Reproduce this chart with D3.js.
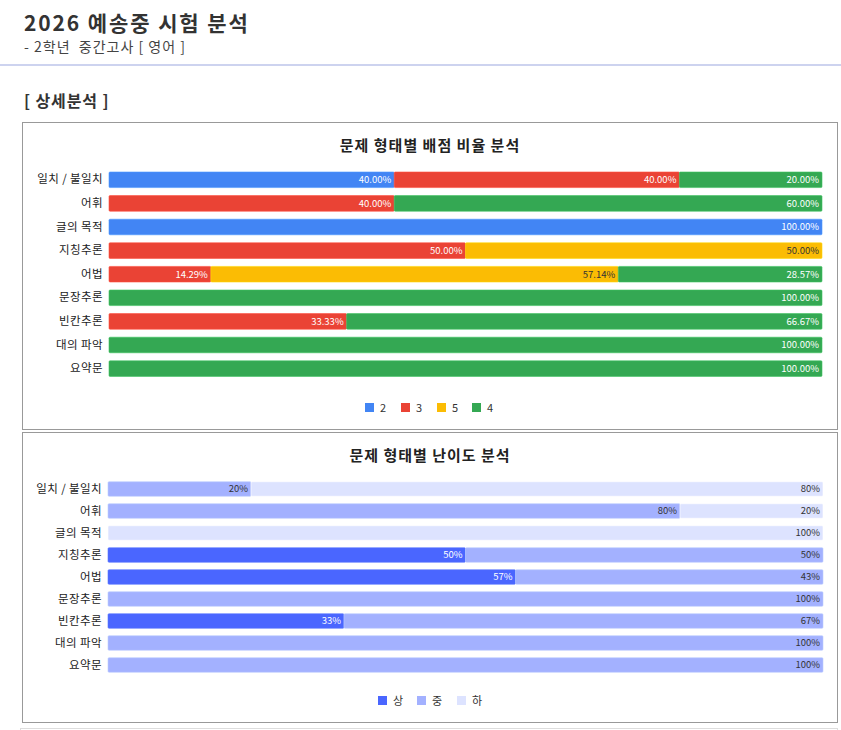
<!DOCTYPE html>
<html>
<head>
<meta charset="utf-8">
<script src="https://cdn.jsdelivr.net/npm/d3@7"></script>
<style>
  body { margin: 0; background: #fff; font-family: "Noto Sans CJK KR", "Noto Sans", sans-serif; }
  svg { display: block; }
</style>
</head>
<body>
<svg id="page" width="841" height="730"></svg>
<script>
// ---- data ----
const categories = ['일치 / 불일치', '어휘', '글의 목적', '지칭추론', '어법', '문장추론', '빈칸추론', '대의 파악', '요약문']

const scoreKeys = ['2', '3', '5', '4']
const score2 = [40, 0, 100, 0, 0, 0, 0, 0, 0]
const score3 = [40, 40, 0, 50, 14.29, 0, 33.33, 0, 0]
const score5 = [0, 0, 0, 50, 57.14, 0, 0, 0, 0]
const score4 = [20, 60, 0, 0, 28.57, 100, 66.67, 100, 100]
const scoreColors = ['#4285F4', '#EA4335', '#FBBC04', '#34A853']

const levelKeys = ['상', '중', '하']
const levelHigh = [0, 0, 0, 50, 57, 0, 33, 0, 0]
const levelMid = [20, 80, 0, 50, 43, 100, 67, 100, 100]
const levelLow = [80, 20, 100, 0, 0, 0, 0, 0, 0]
const levelColors = ['#4a66ff', '#a3b1ff', '#dde3ff']

const svg = d3.select('#page')
const font = '"Noto Sans CJK KR", "Noto Sans", sans-serif'

// ---- page header ----
svg.append('text').attr('x', 24).attr('y', 31)
    .attr('font-size', 21).attr('font-weight', 700).attr('fill', '#333')
    .attr('letter-spacing', 1.9)
    .attr('font-family', font).text('2026 예송중 시험 분석')
svg.append('text').attr('x', 24).attr('y', 52)
    .attr('font-size', 14).attr('fill', '#444').attr('letter-spacing', 1)
    .attr('font-family', font).attr('xml:space', 'preserve').text('- 2학년  중간고사 [ 영어 ]')
svg.append('rect').attr('x', 0).attr('y', 64).attr('width', 841).attr('height', 2).attr('fill', '#cdd3ef')
svg.append('text').attr('x', 24).attr('y', 107)
    .attr('font-size', 16).attr('font-weight', 700).attr('fill', '#333').attr('letter-spacing', 0.9)
    .attr('font-family', font).text('[ 상세분석 ]')
// next box edge at the very bottom
svg.append('rect').attr('x', 20.5).attr('y', 728.5).attr('width', 817).attr('height', 10)
    .attr('fill', 'none').attr('stroke', '#ddd')

/**
 * stacked horizontal bar chart inside a bordered box
 */
function stackedChart(opts) {
    const { top, height, title, keys, series, colors, fmt, darkText, x0, x1, rowTop, rowStep, legendY, legendXs } = opts

    const g = svg.append('g')
    g.append('rect').attr('x', 22.5).attr('y', top + 0.5).attr('width', 815).attr('height', height)
        .attr('fill', '#fff').attr('stroke', '#999')

    g.append('text').attr('x', 430).attr('y', top + 29).attr('text-anchor', 'middle')
        .attr('font-size', 15).attr('font-weight', 700).attr('fill', '#222').attr('letter-spacing', 1)
        .attr('font-family', font).text(title)

    const rows = categories.map((c, i) => {
        const r = { cat: c }
        keys.forEach((k, j) => r[k] = series[j][i])
        return r
    })
    const stacked = d3.stack().keys(keys)(rows)

    const x = d3.scaleLinear().domain([0, 100]).range([x0, x1])
    const y = d3.scaleBand().domain(categories)
        .range([rowTop, rowTop + rowStep * categories.length]).paddingInner(0.34).paddingOuter(0.17)

    const yAxis = g.append('g').attr('transform', `translate(${x0 - 6},0)`)
        .call(d3.axisLeft(y).tickSize(0).tickPadding(0))
    yAxis.select('.domain').remove()
    yAxis.selectAll('text').attr('font-size', 11.5).attr('fill', '#222')
        .attr('letter-spacing', 0.4).attr('font-family', font)

    stacked.forEach((layer, j) => {
        const lg = g.append('g')
        const segs = layer.filter(d => d[1] - d[0] > 0)
        lg.selectAll('rect').data(segs).join('rect')
            .attr('x', d => x(d[0]))
            .attr('y', d => y(d.data.cat))
            .attr('width', d => x(d[1]) - x(d[0]))
            .attr('height', y.bandwidth())
            .attr('rx', 1)
            .attr('fill', colors[j])
            .attr('stroke', d3.color(colors[j]).brighter(0.4))
            .attr('stroke-width', 0.6)
        lg.selectAll('text').data(segs).join('text')
            .attr('x', d => x(d[1]) - 3)
            .attr('y', d => y(d.data.cat) + y.bandwidth() / 2)
            .attr('dy', '0.35em')
            .attr('text-anchor', 'end')
            .attr('font-size', 9.5)
            .attr('font-family', font)
            .attr('fill', darkText[j] ? '#333' : '#fff')
            .text(d => fmt(d[1] - d[0]))
    })

    const leg = g.append('g')
    keys.forEach((k, j) => {
        leg.append('rect').attr('x', legendXs[j]).attr('y', legendY - 5)
            .attr('width', 9).attr('height', 9).attr('fill', colors[j])
        leg.append('text').attr('x', legendXs[j] + 15).attr('y', legendY)
            .attr('dy', '0.35em').attr('font-size', 11).attr('fill', '#333')
            .attr('font-family', font).text(k)
    })
}

stackedChart({
    top: 122, height: 307, title: '문제 형태별 배점 비율 분석',
    keys: scoreKeys, series: [score2, score3, score5, score4], colors: scoreColors,
    fmt: v => v.toFixed(2) + '%', darkText: [false, false, true, false],
    x0: 109, x1: 822, rowTop: 168, rowStep: 23.6,
    legendY: 408, legendXs: [365, 401, 437, 472]
})

stackedChart({
    top: 432, height: 290, title: '문제 형태별 난이도 분석',
    keys: levelKeys, series: [levelHigh, levelMid, levelLow], colors: levelColors,
    fmt: v => Math.round(v) + '%', darkText: [false, true, true],
    x0: 108, x1: 823, rowTop: 478, rowStep: 22,
    legendY: 701, legendXs: [378, 417, 457]
})
</script>
</body>
</html>
